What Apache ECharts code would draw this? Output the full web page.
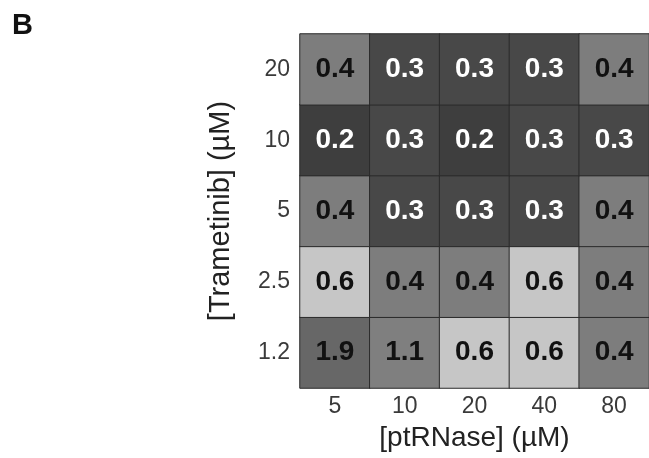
<!DOCTYPE html>
<html>
<head>
<meta charset="utf-8">
<script src="https://cdn.jsdelivr.net/npm/echarts@6/dist/echarts.min.js"></script>
<style>html,body{margin:0;padding:0;background:#fff}#c{width:649px;height:458px}</style>
</head>
<body>
<div id="c"></div>
<script>
// Data
const ptRNase = ['5', '10', '20', '40', '80'];            // x categories (µM)
const trametinib = ['1.2', '2.5', '5', '10', '20'];       // y categories, bottom to top (µM)
const row20  = [0.4, 0.3, 0.3, 0.3, 0.4];
const row10  = [0.2, 0.3, 0.2, 0.3, 0.3];
const row5   = [0.4, 0.3, 0.3, 0.3, 0.4];
const row2_5 = [0.6, 0.4, 0.4, 0.6, 0.4];
const row1_2 = [1.9, 1.1, 0.6, 0.6, 0.4];

const rows = { '20': row20, '10': row10, '5': row5, '2.5': row2_5, '1.2': row1_2 };
const data = [];
trametinib.forEach((t, yi) => {
  rows[t].forEach((v, xi) => data.push([xi, yi, v]));
});

const chart = echarts.init(document.getElementById('c'), null, { renderer: 'canvas' });
chart.setOption({
  backgroundColor: '#ffffff',
  animation: false,
  graphic: [{
    type: 'text', left: 12, top: 11,
    style: { text: 'B', font: 'bold 29px "Liberation Sans", Arial, sans-serif', fill: '#111' }
  }],
  grid: { left: 300, top: 34, width: 354, height: 354 },
  xAxis: {
    type: 'category', data: ptRNase,
    axisLine: { show: false }, axisTick: { show: false }, splitLine: { show: false },
    axisLabel: { margin: 7, fontSize: 23, color: '#3a3a3a', fontFamily: '"Liberation Sans", Arial, sans-serif' },
    name: '[ptRNase] (µM)', nameLocation: 'middle', nameGap: 36,
    nameTextStyle: { fontSize: 28, color: '#222', fontFamily: '"Liberation Sans", Arial, sans-serif' }
  },
  yAxis: {
    type: 'category', data: trametinib,
    axisLine: { show: false }, axisTick: { show: false }, splitLine: { show: false },
    axisLabel: { margin: 10, fontSize: 23, color: '#3a3a3a', fontFamily: '"Liberation Sans", Arial, sans-serif' },
    name: '[Trametinib] (µM)', nameLocation: 'middle', nameGap: 65, nameRotate: 90,
    nameTextStyle: { fontSize: 29, color: '#222', fontFamily: '"Liberation Sans", Arial, sans-serif' }
  },
  visualMap: {
    show: false, type: 'piecewise', dimension: 2,
    pieces: [
      { min: 0, max: 0.25, color: '#3e3e3e' },
      { min: 0.25, max: 0.35, color: '#484848' },
      { min: 0.35, max: 0.5, color: '#7d7d7d' },
      { min: 0.5, max: 0.8, color: '#c6c6c6' },
      { min: 0.8, max: 1.5, color: '#7f7f7f' },
      { min: 1.5, max: 3, color: '#676767' }
    ]
  },
  series: [{
    type: 'heatmap', data: data,
    itemStyle: { borderColor: '#2a2a2a', borderWidth: 1 },
    label: {
      show: true,
      formatter: p => (p.value[2] <= 0.3 ? '{w|' : '{k|') + p.value[2].toFixed(1) + '}',
      rich: {
        w: { color: '#ffffff', fontSize: 28, fontWeight: 'bold', fontFamily: '"Liberation Sans", Arial, sans-serif' },
        k: { color: '#111111', fontSize: 28, fontWeight: 'bold', fontFamily: '"Liberation Sans", Arial, sans-serif' }
      }
    },
    emphasis: { disabled: true }
  }]
});
</script>
</body>
</html>
